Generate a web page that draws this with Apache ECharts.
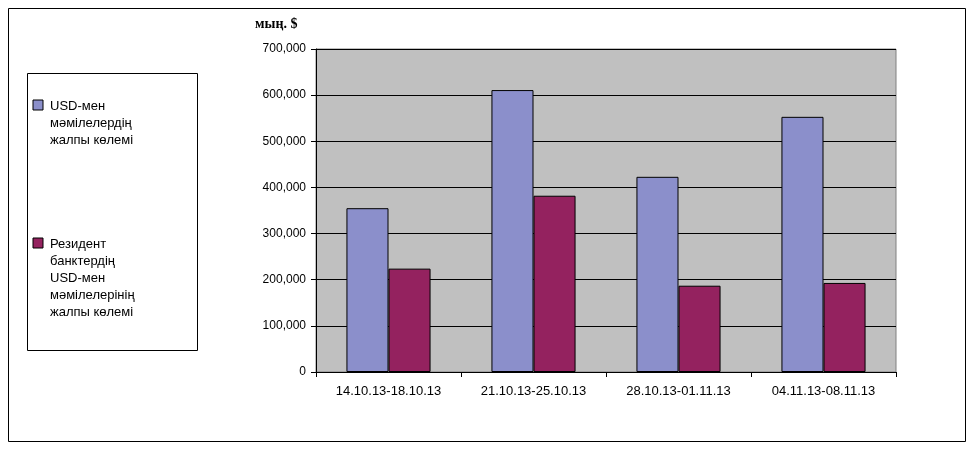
<!DOCTYPE html>
<html><head><meta charset="utf-8">
<script src="https://cdn.jsdelivr.net/npm/echarts@6/dist/echarts.min.js"></script>
<style>html,body{margin:0;padding:0;background:#fff}#c{width:974px;height:450px}</style>
</head><body><div id="c"></div>
<script>
const categories = ["14.10.13-18.10.13","21.10.13-25.10.13","28.10.13-01.11.13","04.11.13-08.11.13"];
const seriesNames = ["USD-мен\nмәмілелердің\nжалпы көлемі","Резидент\nбанктердің\nUSD-мен\nмәмілелерінің\nжалпы көлемі"];
const usdTotal = [355000, 611000, 423000, 553000];
const residentTotal = [224000, 382000, 187000, 193000];
const unitLabel = "мың. $";
const colors = ["#8b8fcb","#94225f"];
const chart = echarts.init(document.getElementById('c'));
const font = "Liberation Sans";
chart.setOption({
  animation:false,
  textStyle:{fontFamily:font},
  title:{text:unitLabel,left:250,top:12,textStyle:{fontSize:14,fontWeight:'bold',color:'#000',fontFamily:'Liberation Serif'}},
  grid:{left:316,right:78,top:49,bottom:78,show:true,backgroundColor:'#c0c0c0',borderColor:'#808080',borderWidth:1},
  xAxis:{type:'category',data:categories,axisTick:{show:true,alignWithLabel:false,lineStyle:{color:'#000'}},
    axisLine:{lineStyle:{color:'#000'}},axisLabel:{color:'#000',fontSize:13,margin:13}},
  yAxis:{type:'value',min:0,max:700000,interval:100000,
    axisLine:{show:true,lineStyle:{color:'#000'}},axisTick:{show:true,lineStyle:{color:'#000'}},
    splitLine:{lineStyle:{color:'#000',width:1}},
    axisLabel:{color:'#000',fontSize:12,margin:10}},
  series:[
    {type:'bar',name:seriesNames[0],data:usdTotal,barGap:'0%',barCategoryGap:'42%',
     itemStyle:{color:colors[0],borderColor:'#000',borderWidth:1}},
    {type:'bar',name:seriesNames[1],data:residentTotal,
     itemStyle:{color:colors[1],borderColor:'#000',borderWidth:1}}
  ],
  graphic:[
    {type:'rect',shape:{x:8.5,y:8.5,width:957,height:433},style:{fill:'none',stroke:'#000',lineWidth:1}},
    {type:'rect',shape:{x:27.5,y:73.5,width:170,height:277},style:{fill:'#fff',stroke:'#000',lineWidth:1}},
    {type:'rect',shape:{x:33,y:100,width:10,height:10},style:{fill:colors[0],stroke:'#000',lineWidth:1}},
    {type:'text',x:50,y:98,style:{text:seriesNames[0],fontSize:13,lineHeight:17,fill:'#000',fontFamily:font}},
    {type:'rect',shape:{x:33,y:238,width:10,height:10},style:{fill:colors[1],stroke:'#000',lineWidth:1}},
    {type:'text',x:50,y:236,style:{text:seriesNames[1],fontSize:13,lineHeight:17,fill:'#000',fontFamily:font}}
  ]
});
</script></body></html>
